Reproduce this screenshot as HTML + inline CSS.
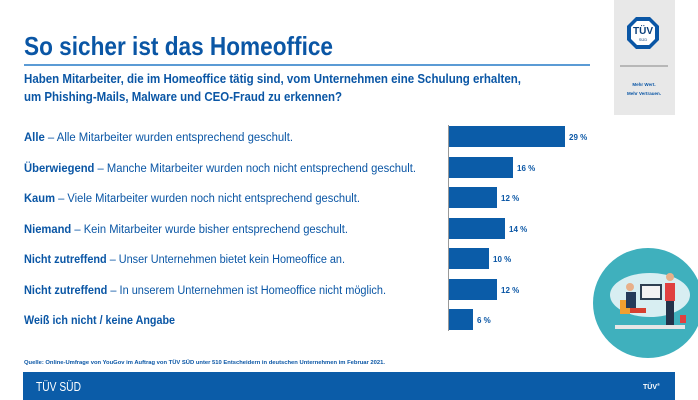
<!DOCTYPE html>
<html><head><meta charset="utf-8"><style>
html,body{margin:0;padding:0;background:#fff}
svg{display:block}
text{font-family:"Liberation Sans",sans-serif}
</style></head><body>
<svg width="698" height="400" viewBox="0 0 698 400" xmlns="http://www.w3.org/2000/svg">
<rect x="614" y="0" width="61" height="115" fill="#e8e8e8"/>
<polygon points="636,17 650,17 659,26 659,40 650,49 636,49 627,40 627,26" fill="#0a56a5"/>
<polygon points="637,21 649,21 655,27 655,39 649,45 637,45 631,39 631,27" fill="#fff"/>
<text x="643" y="34" font-size="10" font-weight="bold" fill="#0a3f7a" text-anchor="middle">TÜV</text>
<text x="643" y="41" font-size="4" fill="#0a3f7a" text-anchor="middle">SÜD</text>
<line x1="620" y1="66" x2="668" y2="66" stroke="#666" stroke-width="0.8"/>
<text x="644" y="86" font-size="4.5" font-weight="bold" fill="#0a56a5" text-anchor="middle">Mehr Wert.</text>
<text x="644" y="95" font-size="4.5" font-weight="bold" fill="#0a56a5" text-anchor="middle">Mehr Vertrauen.</text>

<text x="24" y="55" font-size="26" font-weight="bold" fill="#0a56a5" textLength="309" lengthAdjust="spacingAndGlyphs">So sicher ist das Homeoffice</text>
<rect x="24" y="64" width="566" height="2" fill="#5b9bd5"/>
<text x="24" y="83" font-size="12.5" font-weight="bold" fill="#0a56a5" textLength="497" lengthAdjust="spacingAndGlyphs">Haben Mitarbeiter, die im Homeoffice tätig sind, vom Unternehmen eine Schulung erhalten,</text>
<text x="24" y="101" font-size="12.5" font-weight="bold" fill="#0a56a5" textLength="318" lengthAdjust="spacingAndGlyphs">um Phishing-Mails, Malware und CEO-Fraud zu erkennen?</text>

<g font-size="11.5" fill="#0a56a5">
<text x="24" y="141" textLength="269" lengthAdjust="spacingAndGlyphs"><tspan font-weight="bold">Alle</tspan> – Alle Mitarbeiter wurden entsprechend geschult.</text>
<text x="24" y="172" textLength="392" lengthAdjust="spacingAndGlyphs"><tspan font-weight="bold">Überwiegend</tspan> – Manche Mitarbeiter wurden noch nicht entsprechend geschult.</text>
<text x="24" y="202" textLength="336" lengthAdjust="spacingAndGlyphs"><tspan font-weight="bold">Kaum</tspan> – Viele Mitarbeiter wurden noch nicht entsprechend geschult.</text>
<text x="24" y="233" textLength="324" lengthAdjust="spacingAndGlyphs"><tspan font-weight="bold">Niemand</tspan> – Kein Mitarbeiter wurde bisher entsprechend geschult.</text>
<text x="24" y="263" textLength="321" lengthAdjust="spacingAndGlyphs"><tspan font-weight="bold">Nicht zutreffend</tspan> – Unser Unternehmen bietet kein Homeoffice an.</text>
<text x="24" y="294" textLength="362" lengthAdjust="spacingAndGlyphs"><tspan font-weight="bold">Nicht zutreffend</tspan> – In unserem Unternehmen ist Homeoffice nicht möglich.</text>
<text x="24" y="324" font-weight="bold" textLength="151" lengthAdjust="spacingAndGlyphs">Weiß ich nicht / keine Angabe</text>
</g>

<line x1="448.5" y1="125" x2="448.5" y2="331" stroke="#999" stroke-width="1"/>
<g fill="#0b5ca8">
<rect x="449" y="126" width="116" height="21"/>
<rect x="449" y="157" width="64" height="21"/>
<rect x="449" y="187" width="48" height="21"/>
<rect x="449" y="218" width="56" height="21"/>
<rect x="449" y="248" width="40" height="21"/>
<rect x="449" y="279" width="48" height="21"/>
<rect x="449" y="309" width="24" height="21"/>
</g>
<g font-size="8" font-weight="bold" fill="#0a56a5">
<text x="569" y="140">29 %</text>
<text x="517" y="171">16 %</text>
<text x="501" y="201">12 %</text>
<text x="509" y="232">14 %</text>
<text x="493" y="262">10 %</text>
<text x="501" y="293">12 %</text>
<text x="477" y="323">6 %</text>
</g>

<text x="24" y="364" font-size="5.5" font-weight="bold" fill="#0a56a5" textLength="361" lengthAdjust="spacingAndGlyphs">Quelle: Online-Umfrage von YouGov im Auftrag von TÜV SÜD unter 510 Entscheidern in deutschen Unternehmen im Februar 2021.</text>

<circle cx="648" cy="303" r="55" fill="#3fb0bd"/>
<ellipse cx="650" cy="295" rx="40" ry="22" fill="#d8eef2"/>
<rect x="615" y="325" width="70" height="4" fill="#e6e6e6"/>
<rect x="640" y="284" width="22" height="16" fill="#2d3e50"/>
<rect x="642" y="286" width="18" height="12" fill="#f2f2f2"/>
<rect x="620" y="300" width="10" height="14" fill="#f0a030"/>
<rect x="626" y="292" width="10" height="16" fill="#243a5a"/>
<circle cx="630" cy="287" r="4" fill="#e8b08a"/>
<rect x="630" y="308" width="16" height="5" fill="#d84030"/>
<rect x="665" y="283" width="10" height="18" fill="#e04040"/>
<rect x="666" y="301" width="8" height="24" fill="#23324a"/>
<circle cx="670" cy="277" r="4" fill="#e8b08a"/>
<rect x="680" y="315" width="6" height="8" fill="#e04040"/>

<rect x="23" y="372" width="652" height="28" fill="#0b5ca8"/>
<text x="36" y="391" font-size="12.5" fill="#fff" textLength="45" lengthAdjust="spacingAndGlyphs">TÜV SÜD</text>
<text x="643" y="389" font-size="7" font-weight="bold" fill="#fff">TÜV<tspan font-size="4" dy="-3">®</tspan></text>
</svg>
</body></html>
